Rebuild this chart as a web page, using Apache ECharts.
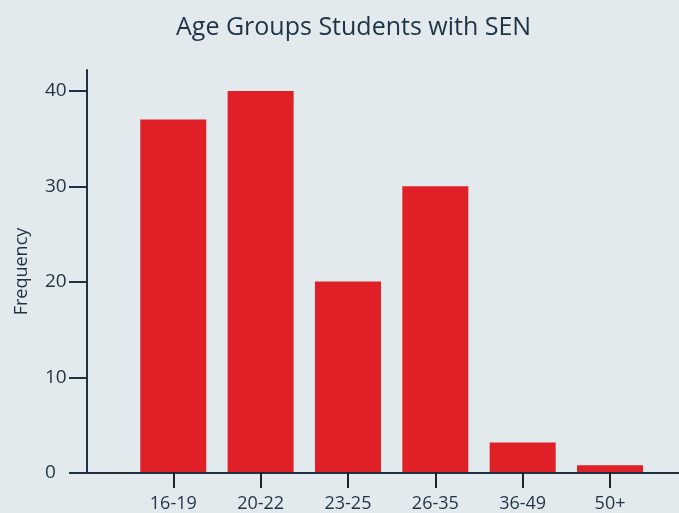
<!DOCTYPE html>
<html>
<head>
<meta charset="utf-8">
<script src="https://cdn.jsdelivr.net/npm/echarts@6/dist/echarts.min.js"></script>
<style>
html,body{margin:0;padding:0;background:#e2eaed;}
#chart{width:679px;height:513px;}
</style>
</head>
<body>
<div id="chart"></div>
<script>
const categories = ['16-19', '20-22', '23-25', '26-35', '36-49', '50+'];
const frequency = [37, 40, 20, 30, 3.1, 0.7];
const yTickValues = [0, 10, 20, 30, 40];
const titleText = 'Age Groups Students with SEN';
const yAxisName = 'Frequency';

const textColor = '#1f3347';
const axisColor = '#1e3246';
const font = 'Open Sans';

const chart = echarts.init(document.getElementById('chart'), null, {renderer: 'canvas'});
chart.setOption({
  backgroundColor: '#e2eaed',
  animation: false,
  title: {
    text: titleText,
    left: 171,
    top: 10,
    textStyle: {fontFamily: font, fontSize: 25, fontWeight: 'normal', color: textColor}
  },
  grid: [
    {left: 87, right: 0, top: 70, bottom: 40},
    {left: 129.6, right: 25.3, top: 70, bottom: 40}
  ],
  xAxis: [
    {
      gridIndex: 0, type: 'value', min: 0, max: 1,
      axisLine: {show: true, lineStyle: {color: axisColor, width: 2}},
      axisTick: {show: false}, axisLabel: {show: false}, splitLine: {show: false}
    },
    {
      gridIndex: 1, type: 'category', data: categories,
      axisLine: {show: false},
      axisTick: {show: true, alignWithLabel: true, length: 16, lineStyle: {color: '#222', width: 2}},
      axisLabel: {margin: 23, fontFamily: font, fontSize: 18, color: textColor},
      splitLine: {show: false}
    }
  ],
  yAxis: [
    {
      gridIndex: 0, type: 'value', min: 0, max: 42.2, interval: 10,
      name: yAxisName, nameLocation: 'middle', nameGap: 56,
      nameTextStyle: {fontFamily: font, fontSize: 18, color: textColor},
      axisLine: {show: true, lineStyle: {color: axisColor, width: 2}},
      axisTick: {show: true, length: 18, customValues: yTickValues, lineStyle: {color: axisColor, width: 2}},
      axisLabel: {customValues: yTickValues, align: 'left', margin: 42, fontFamily: font, fontSize: 19, color: textColor},
      splitLine: {show: false}
    },
    {
      gridIndex: 1, type: 'value', min: 0, max: 42.2, show: false
    }
  ],
  series: [{
    type: 'bar',
    xAxisIndex: 1, yAxisIndex: 1,
    data: frequency,
    barWidth: 66,
    itemStyle: {color: '#e02027'}
  }]
});
</script>
</body>
</html>
